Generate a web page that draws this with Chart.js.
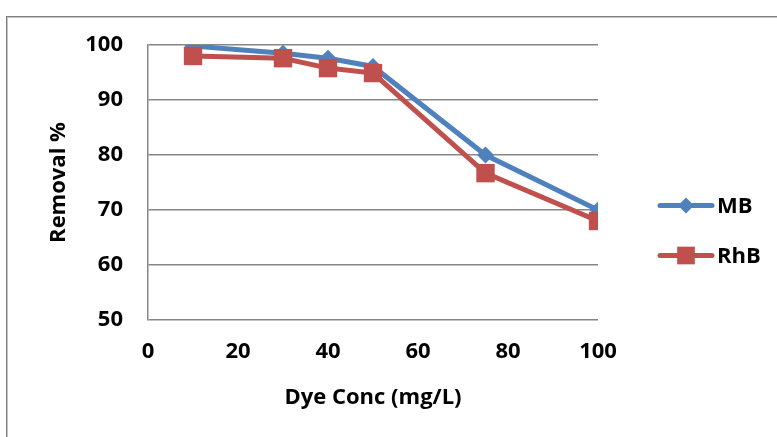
<!DOCTYPE html>
<html>
<head>
<meta charset="utf-8">
<script src="https://cdn.jsdelivr.net/npm/chart.js@4.4.1/dist/chart.umd.min.js"></script>
<style>
    html, body { margin: 0; padding: 0; background: #fff; }
    #wrap { position: relative; width: 777px; height: 437px; overflow: hidden; }
    .frame {
        position: absolute; left: 6px; top: 16px; width: 900px; height: 600px;
        border-top: 1px solid #7f7f7f; border-left: 1px solid #7f7f7f;
        box-shadow: inset 1px 1px 0 #c4c4c4;
    }
    canvas { position: absolute; left: 0; top: 0; }
</style>
</head>
<body>
<div id="wrap">
    <div class="frame"></div>
    <canvas id="removalChart" width="777" height="437"></canvas>
</div>
<script>
// 染料濃度と除去率
const dyeConc = [10, 30, 40, 50, 75, 100];
const removalMB = [99.8, 98.5, 97.6, 96.1, 80, 70];
const removalRhB = [98.0, 97.6, 95.8, 94.9, 76.7, 68];
const xTicks = [0, 20, 40, 60, 80, 100];
const yTicks = [50, 60, 70, 80, 90, 100];

const BLUE = '#4f81bd';
const RED = '#c0504d';
const FONT = '"Open Sans", "Liberation Sans", sans-serif';
const FONT_SIZE = 22;

// 凡例の線+マーカー
function legendItems(chart, ctx) {
    const area = chart.chartArea;
    const x0 = area.right + 62;
    const midY = (area.top + area.bottom) / 2;
    chart.data.datasets.forEach((ds, i) => {
        const y = midY + 23 + i * 50;
        ctx.save();
        ctx.strokeStyle = ds.borderColor;
        ctx.lineWidth = ds.borderWidth;
        ctx.lineCap = 'round';
        ctx.beginPath();
        ctx.moveTo(x0, y);
        ctx.lineTo(x0 + 52, y);
        ctx.stroke();
        ctx.fillStyle = ds.backgroundColor;
        Chart.helpers.drawPoint(ctx, {
            pointStyle: ds.pointStyle,
            radius: ds.legendRadius,
            borderWidth: 0
        }, x0 + 26, y);
        ctx.fillStyle = '#000';
        ctx.font = 'bold ' + FONT_SIZE + 'px ' + FONT;
        ctx.textBaseline = 'middle';
        ctx.fillText(ds.label, x0 + 57, y + 1);
        ctx.restore();
    });
}

const legendPlugin = {
    id: 'lineLegend',
    afterDraw(chart) {
        legendItems(chart, chart.ctx);
    }
};

const ctx = document.getElementById('removalChart').getContext('2d');
new Chart(ctx, {
    type: 'line',
    data: {
        datasets: [
            {
                label: 'MB',
                data: dyeConc.map((x, i) => ({ x: x, y: removalMB[i] })),
                borderColor: BLUE,
                backgroundColor: BLUE,
                borderWidth: 5,
                pointStyle: 'rectRot',
                pointRadius: 8.5,
                legendRadius: 8,
                pointBorderWidth: 0,
                order: 2
            },
            {
                label: 'RhB',
                data: dyeConc.map((x, i) => ({ x: x, y: removalRhB[i] })),
                borderColor: RED,
                backgroundColor: RED,
                borderWidth: 5,
                pointStyle: 'rect',
                pointRadius: 13,
                legendRadius: 12.5,
                pointBorderWidth: 0,
                order: 1
            }
        ]
    },
    options: {
        responsive: false,
        animation: false,
        events: [],
        layout: { padding: { left: 40, top: 45, right: 179, bottom: 26 } },
        plugins: {
            legend: { display: false },
            tooltip: { enabled: false }
        },
        scales: {
            x: {
                type: 'linear',
                min: 0,
                max: 100,
                afterBuildTicks: scale => { scale.ticks = xTicks.map(v => ({ value: v })); },
                afterFit: scale => { scale.height = 91; },
                grid: { display: false, drawTicks: false },
                border: { display: false },
                ticks: {
                    padding: 19,
                    color: '#000',
                    font: { family: FONT, size: FONT_SIZE, weight: 'bold' }
                },
                title: {
                    display: true,
                    text: 'Dye Conc (mg/L)',
                    color: '#000',
                    padding: 0,
                    font: { family: FONT, size: FONT_SIZE, weight: 'bold' }
                }
            },
            y: {
                min: 50,
                max: 100,
                afterBuildTicks: scale => { scale.ticks = yTicks.map(v => ({ value: v })); },
                afterFit: scale => { scale.width = 108; },
                grid: { color: '#868686', lineWidth: 1.5, drawTicks: false },
                border: { display: true, color: '#868686', width: 1.5 },
                ticks: {
                    padding: 25,
                    color: '#000',
                    font: { family: FONT, size: FONT_SIZE, weight: 'bold' }
                },
                title: {
                    display: true,
                    text: 'Removal %',
                    color: '#000',
                    padding: { top: 6 },
                    font: { family: FONT, size: FONT_SIZE, weight: 'bold' }
                }
            }
        }
    },
    plugins: [legendPlugin]
});
</script>
</body>
</html>
